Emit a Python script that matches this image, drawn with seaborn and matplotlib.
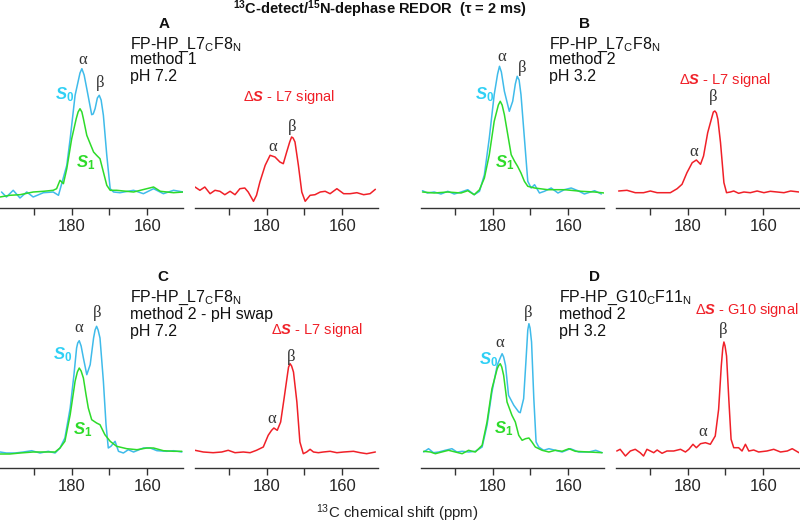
import matplotlib
matplotlib.use('Agg')
import matplotlib.pyplot as plt
import seaborn as sns

# ---- data: chemical shift (ppm) and intensity ----
# Panel A: FP-HP_L7CF8N, method 1, pH 7.2
a_s0_ppm = [198.6, 197.3, 195.5, 193.7, 191.9, 190.2, 187.5, 184.9, 183.5, 181.3, 180.4, 179.1,
            177.8, 177.3, 176.7, 176.0, 174.7, 174.3, 173.8, 173.2, 172.7, 172.2, 171.6, 170.7,
            169.8, 168.9, 167.2, 163.6, 161.0, 158.3, 155.7, 153.0, 150.4]
a_s0 = [0.0, -0.05, 0.017, -0.06, 0.0, -0.05, -0.007, 0.0, -0.033, 0.267, 0.533, 0.967,
        1.19, 1.233, 1.17, 1.033, 0.773, 0.78, 0.833, 0.94, 0.967, 0.92, 0.767, 0.367,
        0.033, 0.0, -0.007, 0.017, -0.017, 0.033, -0.017, 0.017, 0.0]
a_s1_ppm = [199.0, 196.4, 193.7, 190.2, 187.5, 184.9, 184.0, 183.1, 182.2, 181.3, 180.0, 178.8,
            178.3, 177.8, 177.3, 176.9, 176.0, 175.1, 174.2, 173.4, 172.5, 171.6, 170.7, 169.8,
            168.1, 163.6, 158.3, 156.5, 153.0, 150.4]
a_s1 = [-0.05, -0.033, -0.027, 0.0, 0.007, 0.017, 0.033, 0.117, 0.083, 0.233, 0.533, 0.733,
        0.8, 0.833, 0.8, 0.733, 0.567, 0.483, 0.4, 0.367, 0.333, 0.2, 0.067, 0.017,
        0.017, 0.0, 0.05, 0.007, -0.007, 0.0]
a_ds_ppm = [199.0, 197.7, 196.4, 195.0, 193.7, 192.4, 191.1, 189.7, 188.4, 187.1, 185.8, 184.9,
            183.5, 182.7, 181.8, 180.4, 179.1, 177.8, 176.5, 175.6, 174.7, 173.9, 173.4, 173.0,
            172.5, 171.6, 170.7, 169.8, 168.5, 167.2, 165.8, 164.5, 163.2, 161.4, 159.6, 157.9,
            156.1, 154.3, 152.6, 151.2]
a_ds = [0.05, 0.017, 0.05, -0.017, 0.017, 0.007, -0.027, 0.007, -0.027, 0.033, 0.04, 0.0,
        -0.093, -0.033, 0.1, 0.267, 0.367, 0.35, 0.3, 0.283, 0.4, 0.5, 0.55, 0.54,
        0.5, 0.267, 0.0, -0.093, -0.033, -0.027, 0.0, 0.007, -0.017, 0.033, -0.017, -0.017,
        -0.007, -0.027, -0.017, 0.027]

# Panel B: FP-HP_L7CF8N, method 2, pH 3.2
b_s0_ppm = [198.6, 197.3, 195.5, 193.7, 191.9, 190.2, 188.4, 186.6, 184.9, 183.5, 182.2, 180.9,
            179.6, 178.7, 178.2, 177.7, 176.9, 175.6, 174.7, 174.0, 173.5, 173.0, 172.5, 171.6,
            170.7, 169.8, 168.9, 167.6, 166.3, 164.5, 162.7, 161.0, 159.2, 157.4, 155.7, 153.0,
            151.2]
b_s0 = [0.013, -0.01, 0.0, -0.02, 0.007, -0.02, 0.0, 0.023, -0.027, 0.007, 0.173, 0.54,
        0.973, 1.18, 1.257, 1.2, 1.007, 0.807, 0.907, 1.08, 1.157, 1.12, 0.973, 0.54,
        0.107, 0.04, 0.073, -0.01, 0.007, 0.04, -0.01, 0.023, 0.04, 0.013, -0.02, 0.013,
        -0.02]
b_s1_ppm = [198.6, 195.5, 191.9, 188.4, 186.6, 184.9, 183.5, 182.2, 180.9, 179.6, 178.5, 178.0,
            177.5, 176.9, 176.0, 175.1, 174.2, 173.4, 172.5, 171.6, 170.7, 168.9, 165.4, 161.0,
            156.5, 153.0, 150.4]
b_s1 = [0.0, -0.01, 0.0, -0.01, 0.013, -0.027, 0.023, 0.14, 0.373, 0.707, 0.87, 0.907,
        0.87, 0.773, 0.573, 0.373, 0.307, 0.257, 0.19, 0.107, 0.057, 0.04, 0.023, 0.023,
        0.007, 0.0, -0.01]
b_ds_ppm = [198.3, 196.1, 193.9, 191.7, 189.9, 188.1, 186.4, 184.6, 182.8, 181.5, 180.2, 178.8,
            177.7, 176.6, 175.8, 174.7, 173.5, 173.2, 172.8, 172.4, 172.0, 171.3, 170.4, 169.7,
            168.7, 167.8, 166.5, 165.1, 163.4, 161.6, 159.8, 158.1, 156.3, 154.5, 152.7, 150.5]
b_ds = [0.01, 0.017, -0.007, -0.007, 0.01, -0.007, -0.007, -0.007, 0.033, 0.077, 0.193, 0.293,
        0.32, 0.277, 0.36, 0.593, 0.76, 0.8, 0.81, 0.79, 0.727, 0.493, 0.093, -0.007,
        0.0, 0.01, -0.013, 0.0, -0.007, 0.01, -0.007, 0.007, 0.0, -0.007, 0.01, 0.0]

# Panel C: FP-HP_L7CF8N, method 2 - pH swap, pH 7.2
c_s0_ppm = [199.0, 197.3, 195.0, 192.8, 190.6, 188.4, 186.2, 184.4, 183.1, 181.8, 180.4, 179.4,
            178.7, 178.4, 178.0, 177.5, 176.9, 176.0, 175.1, 174.2, 173.8, 173.4, 173.0, 172.5,
            171.6, 170.9, 170.3, 169.6, 168.5, 167.6, 166.3, 165.0, 163.6, 161.0, 159.2, 157.4,
            154.8, 153.0, 150.8]
c_s0 = [0.0, -0.01, -0.01, 0.0, 0.013, -0.01, 0.007, -0.01, 0.04, 0.14, 0.44, 0.773,
        1.04, 1.09, 1.113, 1.06, 0.94, 0.773, 0.873, 1.14, 1.22, 1.257, 1.22, 1.14,
        0.707, 0.273, 0.04, 0.057, 0.107, 0.007, -0.01, 0.023, 0.0, 0.04, 0.04, 0.013,
        0.007, 0.013, 0.0]
c_s1_ppm = [199.0, 196.4, 193.7, 190.2, 186.6, 184.4, 183.1, 181.8, 180.4, 179.1, 178.5, 178.0,
            177.5, 176.9, 176.2, 175.6, 174.7, 173.4, 172.5, 171.2, 169.8, 168.1, 165.4, 162.7,
            160.1, 158.3, 155.7, 153.0, 150.8]
c_s1 = [-0.02, -0.02, -0.01, 0.0, 0.0, 0.0, 0.04, 0.107, 0.373, 0.707, 0.8, 0.84,
        0.81, 0.74, 0.573, 0.44, 0.323, 0.29, 0.273, 0.173, 0.107, 0.057, 0.033, 0.023,
        0.04, 0.04, 0.013, 0.007, 0.007]
c_ds_ppm = [199.0, 196.8, 194.2, 191.9, 190.2, 188.4, 186.2, 184.4, 182.7, 180.9, 179.6, 178.7,
            178.1, 177.2, 176.3, 175.4, 174.4, 174.2, 173.8, 173.4, 172.9, 172.0, 171.2, 170.3,
            169.4, 168.5, 167.6, 166.3, 165.0, 163.2, 161.4, 159.6, 157.0, 155.2, 153.5, 151.2]
c_ds = [0.017, 0.0, -0.007, 0.0, 0.017, -0.007, 0.0, -0.007, 0.017, 0.05, 0.167, 0.217,
        0.24, 0.217, 0.3, 0.533, 0.8, 0.85, 0.883, 0.86, 0.8, 0.5, 0.1, -0.017,
        0.0, 0.027, 0.0, -0.007, 0.0, 0.007, -0.007, 0.0, 0.007, -0.007, -0.017, 0.0]

# Panel D: FP-HP_G10CF11N, method 2, pH 3.2
d_s0_ppm = [198.3, 197.0, 195.7, 194.3, 192.6, 190.8, 189.5, 188.1, 186.4, 184.6, 182.8, 181.5,
            180.2, 178.8, 177.9, 177.5, 177.1, 176.6, 175.8, 174.4, 173.1, 172.7, 171.8, 171.2,
            170.7, 170.4, 170.1, 169.7, 169.1, 168.5, 167.8, 166.5, 165.1, 163.4, 161.6, 159.4,
            157.2, 154.5, 152.7, 151.0]
d_s0 = [0.0, 0.033, -0.007, 0.0, 0.017, 0.033, 0.0, 0.007, 0.0, 0.007, 0.05, 0.267,
        0.6, 0.867, 0.95, 0.983, 0.95, 0.867, 0.567, 0.467, 0.4, 0.393, 0.533, 0.9,
        1.22, 1.283, 1.24, 1.1, 0.533, 0.1, 0.05, 0.017, 0.033, 0.017, 0.0, 0.033,
        0.0, 0.0, 0.017, -0.007]
d_s1_ppm = [198.3, 196.5, 195.2, 193.5, 191.7, 189.9, 188.1, 186.4, 184.6, 182.8, 181.5, 180.2,
            178.8, 178.4, 178.0, 177.6, 177.1, 176.2, 174.9, 174.0, 173.1, 172.2, 171.3, 170.4,
            169.6, 168.7, 166.9, 165.1, 163.4, 161.6, 159.8, 158.1, 154.5, 151.0]
d_s1 = [0.007, 0.0, -0.017, 0.0, 0.017, 0.0, -0.017, 0.017, 0.0, 0.067, 0.3, 0.633,
        0.833, 0.865, 0.883, 0.85, 0.767, 0.5, 0.367, 0.3, 0.167, 0.117, 0.133, 0.14,
        0.1, 0.05, 0.017, 0.0, 0.017, 0.007, 0.033, 0.007, 0.0, -0.007]
d_ds_ppm = [198.8, 197.9, 196.5, 195.2, 193.9, 192.6, 191.7, 190.8, 189.9, 189.0, 188.1, 186.8,
            185.5, 183.7, 181.9, 180.6, 179.7, 178.6, 177.7, 176.6, 175.3, 174.0, 172.7, 171.8,
            171.1, 170.7, 170.4, 170.1, 169.7, 169.1, 168.5, 167.8, 166.5, 165.6, 164.7, 163.8,
            162.5, 161.2, 159.0, 157.2, 155.4, 153.6, 152.3, 150.5]
d_ds = [0.01, 0.027, -0.04, 0.01, 0.027, -0.007, -0.04, 0.027, 0.01, -0.007, 0.02, -0.013,
        0.01, 0.01, 0.027, 0.0, 0.027, 0.077, 0.043, 0.083, 0.093, 0.077, 0.16, 0.427,
        0.86, 1.04, 1.1, 1.06, 0.96, 0.527, 0.127, 0.043, 0.043, 0.01, 0.077, 0.01,
        0.02, 0.0, 0.01, 0.027, 0.0, 0.01, 0.033, -0.007]

letters = ['A', 'B', 'C', 'D']
samples = [r'FP-HP_L7$_\mathregular{C}$F8$_\mathregular{N}$',
           r'FP-HP_L7$_\mathregular{C}$F8$_\mathregular{N}$',
           r'FP-HP_L7$_\mathregular{C}$F8$_\mathregular{N}$',
           r'FP-HP_G10$_\mathregular{C}$F11$_\mathregular{N}$']
methods = ['method 1', 'method 2', 'method 2 - pH swap', 'method 2']
ph_values = ['pH 7.2', 'pH 3.2', 'pH 7.2', 'pH 3.2']
residues = ['L7', 'L7', 'L7', 'G10']

# ---- style ----
sns.set_theme(style='ticks')
plt.rcParams['font.family'] = ['Liberation Sans', 'DejaVu Sans']
plt.rcParams['mathtext.fontset'] = 'custom'
plt.rcParams['mathtext.rm'] = 'Liberation Sans'
plt.rcParams['mathtext.it'] = 'Liberation Sans:italic'
plt.rcParams['mathtext.bf'] = 'Liberation Sans:bold'
plt.rcParams['mathtext.bfit'] = 'Liberation Sans:italic:bold'

CYAN = '#3fbbea'
CYAN_TXT = '#2fd0f5'
GREEN = '#2edb2a'
RED = '#f02028'

W, H = 800, 527
fig = plt.figure(figsize=(8, 5.27), dpi=100)

col_left = [0, 195, 421, 616]
row_bottom = [208, 468]
ax_w, ax_h = 183, 148
XLIM = (199.0, 150.5)
YLIM = (-0.16, 1.32)


def make_axes(col, row):
    ax = fig.add_axes([col_left[col] / W, 1 - row_bottom[row] / H, ax_w / W, ax_h / H])
    ax.set_xlim(*XLIM)
    ax.set_ylim(*YLIM)
    for s in ['top', 'right', 'left']:
        ax.spines[s].set_visible(False)
    ax.spines['bottom'].set_color('#333333')
    ax.spines['bottom'].set_linewidth(1.0)
    ax.set_xticks([190, 180, 170, 160])
    ax.set_xticklabels(['', '180', '', '160'])
    ax.tick_params(axis='x', direction='out', length=5, width=1, color='#333333',
                   labelsize=12, pad=3, bottom=True)
    ax.tick_params(axis='y', left=False, labelleft=False)
    ax.patch.set_alpha(0)
    return ax


def trace(ax, x, y, color):
    sns.lineplot(x=x, y=y, ax=ax, color=color, lw=1.1, estimator=None, legend=False)
    ax.set_xlabel('')
    ax.set_ylabel('')


greek = dict(family=['Liberation Serif', 'DejaVu Serif'], fontsize=12, color='#333333',
             ha='center', va='center')

panels = [
    dict(s0=(a_s0_ppm, a_s0), s1=(a_s1_ppm, a_s1), ds=(a_ds_ppm, a_ds), cols=(0, 1), row=0,
         la=(177.0, 1.32), lb=(172.5, 1.09), ls0=(181.8, 0.97), ls1=(176.2, 0.29),
         dlab=(186.3, 0.95), da=(178.3, 0.45), db=(173.3, 0.65),
         letter=(164, 24), text_x=130, text_y=(48.5, 64.5, 80.5)),
    dict(s0=(b_s0_ppm, b_s0), s1=(b_s1_ppm, b_s1), ds=(b_ds_ppm, b_ds), cols=(2, 3), row=0,
         la=(177.5, 1.35), lb=(172.2, 1.24), ls0=(182.0, 0.97), ls1=(176.7, 0.29),
         dlab=(182.3, 1.12), da=(178.3, 0.40), db=(173.3, 0.95),
         letter=(585, 24), text_x=549, text_y=(48.5, 64.5, 80.5)),
    dict(s0=(c_s0_ppm, c_s0), s1=(c_s1_ppm, c_s1), ds=(c_ds_ppm, c_ds), cols=(0, 1), row=1,
         la=(178.0, 1.24), lb=(173.3, 1.39), ls0=(182.3, 0.97), ls1=(177.2, 0.22),
         dlab=(178.8, 1.22), da=(178.6, 0.33), db=(173.5, 0.95),
         letter=(163, 277), text_x=130, text_y=(302, 319, 336)),
    dict(s0=(d_s0_ppm, d_s0), s1=(d_s1_ppm, d_s1), ds=(d_ds_ppm, d_ds), cols=(2, 3), row=1,
         la=(178.0, 1.09), lb=(170.6, 1.39), ls0=(181.0, 0.92), ls1=(177.2, 0.23),
         dlab=(178.0, 1.42), da=(175.9, 0.20), db=(170.6, 1.22),
         letter=(594, 277), text_x=559, text_y=(302, 319, 336)),
]

for i, p in enumerate(panels):
    axl = make_axes(p['cols'][0], p['row'])
    axr = make_axes(p['cols'][1], p['row'])

    # S0 / S1 spectra
    trace(axl, *p['s0'], CYAN)
    trace(axl, *p['s1'], GREEN)
    axl.set_xlim(*XLIM)
    axl.set_ylim(*YLIM)
    axl.text(*p['la'], 'α', **greek)
    axl.text(*p['lb'], 'β', **greek)
    axl.text(*p['ls0'], r'$\mathbfit{S}_\mathbf{0}$', color=CYAN_TXT, fontsize=12,
             ha='center', va='center')
    axl.text(*p['ls1'], r'$\mathbfit{S}_\mathbf{1}$', color=GREEN, fontsize=12,
             ha='center', va='center')

    # difference spectrum
    trace(axr, *p['ds'], RED)
    axr.set_xlim(*XLIM)
    axr.set_ylim(*YLIM)
    axr.text(*p['dlab'], r'Δ$\mathbfit{S}$ - ' + residues[i] + ' signal', color=RED,
             fontsize=10.5, ha='left', va='center')
    axr.text(*p['da'], 'α', **greek)
    axr.text(*p['db'], 'β', **greek)

    # panel header
    lx, ly = p['letter']
    fig.text(lx / W, 1 - ly / H, letters[i], fontsize=11, fontweight='bold',
             ha='center', va='center', color='#111111')
    for txt, ty in zip([samples[i], methods[i], ph_values[i]], p['text_y']):
        fig.text(p['text_x'] / W, 1 - ty / H, txt, fontsize=11.5, ha='left',
                 va='baseline', color='#111111')

fig.text(380 / W, 1 - 14 / H,
         r'$^\mathbf{13}$C-detect/$^\mathbf{15}$N-dephase REDOR  (τ = 2 ms)',
         fontsize=10.5, fontweight='bold', ha='center', va='baseline', color='#111111')
fig.text(397 / W, 1 - 518 / H, r'$^{13}$C chemical shift (ppm)', fontsize=10.8,
         ha='center', va='baseline', color='#222222')

fig.savefig('out.png', dpi=100)
